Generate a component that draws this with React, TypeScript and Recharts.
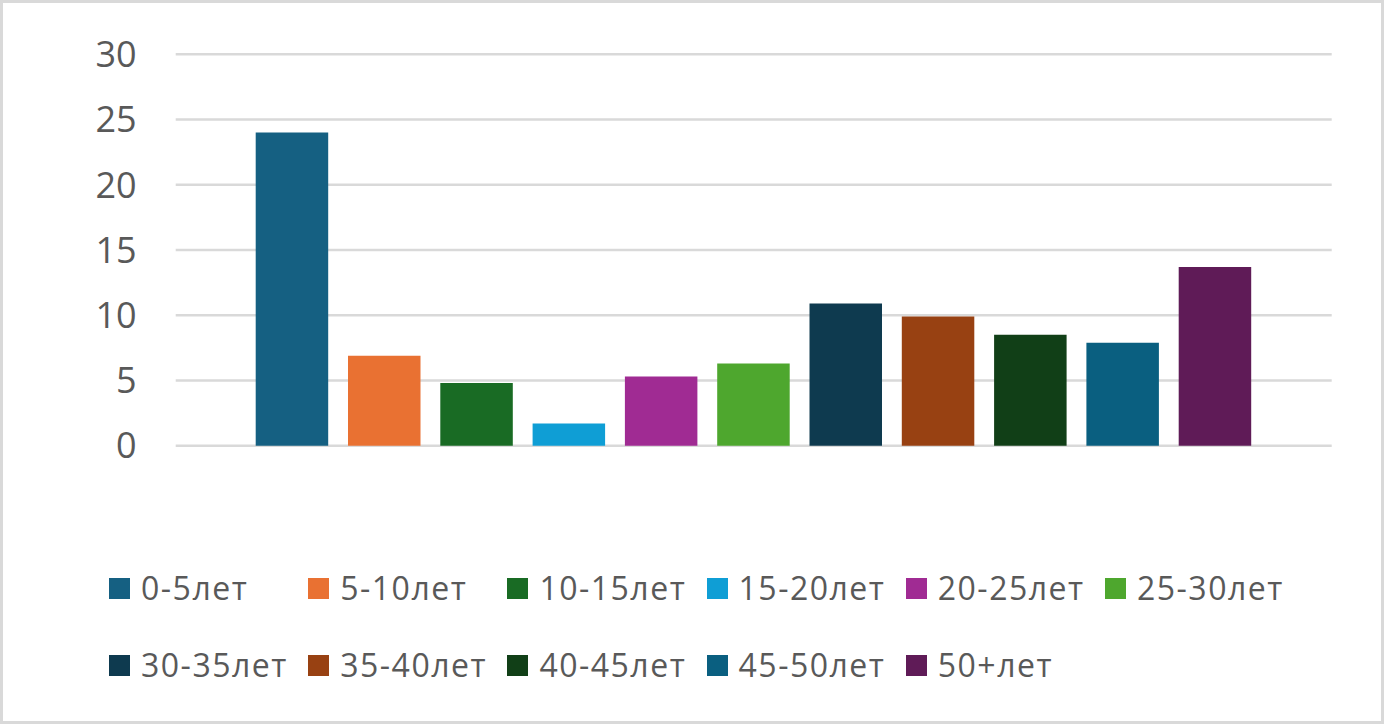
import React from "react"
import { BarChart, Bar, XAxis, YAxis, CartesianGrid, Legend } from "recharts"

const LABELS = [
  "0-5лет",
  "5-10лет",
  "10-15лет",
  "15-20лет",
  "20-25лет",
  "25-30лет",
  "30-35лет",
  "35-40лет",
  "40-45лет",
  "45-50лет",
  "50+лет",
]

const VALUES = [24, 6.9, 4.8, 1.7, 5.3, 6.3, 10.9, 9.9, 8.5, 7.9, 13.7]

const COLORS = [
  "#156082",
  "#E97132",
  "#196B24",
  "#0F9ED5",
  "#A02B93",
  "#4EA72E",
  "#0E3A4F",
  "#984112",
  "#113F17",
  "#0A5F80",
  "#5F1B57",
]

const Y_TICKS = [0, 5, 10, 15, 20, 25, 30]

const FONT = '"Open Sans", "Noto Sans", sans-serif'
const TEXT = "#595959"
const GRID = "#d9d9d9"

// one category row, one key per age group
const chartData = [
  LABELS.reduce<Record<string, string | number>>(
    (row, label, i) => {
      row[label] = VALUES[i]
      return row
    },
    { name: "" }
  ),
]

// legend keeps the series order (recharts would sort it by name)
function LegendContent() {
  return (
    <div style={{ display: "flex", flexWrap: "wrap", width: 1250 }}>
      {LABELS.map((label, i) => (
        <div key={label} style={{ width: 199.2, height: 77, display: "flex", alignItems: "center" }}>
          <span style={{ width: 21, height: 21, background: COLORS[i], display: "inline-block" }} />
          <span
            style={{
              marginLeft: 11,
              fontSize: 32,
              letterSpacing: 1.5,
              color: TEXT,
              fontFamily: FONT,
              lineHeight: "32px",
            }}
          >
            {label}
          </span>
        </div>
      ))}
    </div>
  )
}

export default function App() {
  return (
    <div style={{ position: "fixed", left: 0, top: 0, width: 1384, height: 724, background: "#fff" }}>
      <BarChart
        width={1384}
        height={724}
        data={chartData}
        margin={{ top: 54.3, right: 52.3, left: 0, bottom: 278.3 }}
        barGap={19.8}
        style={{ fontFamily: FONT }}
      >
        <CartesianGrid vertical={false} stroke={GRID} strokeWidth={2.5} />
        <XAxis dataKey="name" hide />
        <YAxis
          domain={[0, 30]}
          ticks={Y_TICKS}
          width={175.7}
          axisLine={false}
          tickLine={false}
          tickSize={0}
          tickMargin={39}
          tick={{ fontSize: 36, fill: TEXT, fontFamily: FONT }}
        />
        <Legend
          layout="horizontal"
          verticalAlign="middle"
          align="center"
          content={<LegendContent />}
          wrapperStyle={{ left: 109, top: 549.5, width: 1250 }}
        />
        {LABELS.map((label, i) => (
          <Bar key={label} dataKey={label} fill={COLORS[i]} barSize={72.5} isAnimationActive={false} />
        ))}
      </BarChart>
      <div
        style={{
          position: "absolute",
          inset: 0,
          border: `3px solid ${GRID}`,
          boxSizing: "border-box",
          pointerEvents: "none",
        }}
      />
    </div>
  )
}
